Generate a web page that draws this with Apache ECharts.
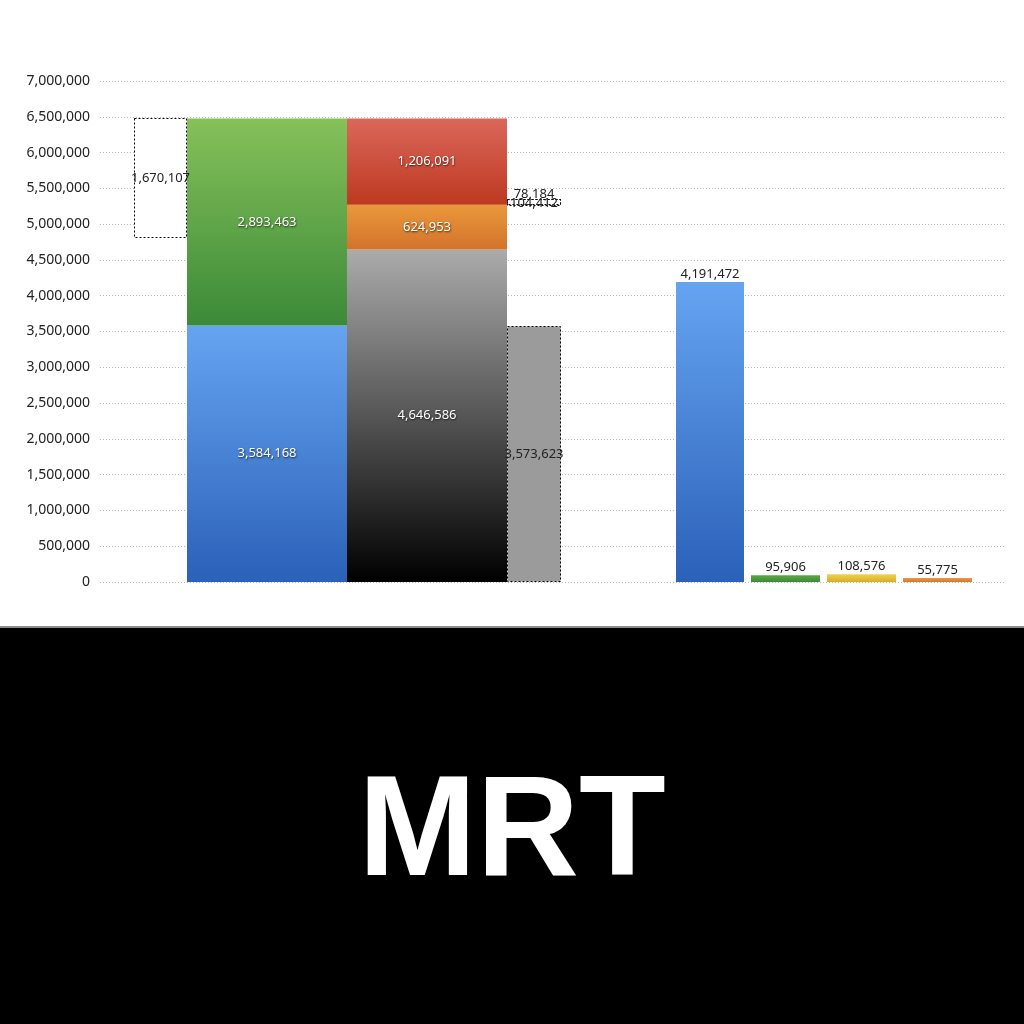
<!DOCTYPE html>
<html><head><meta charset="utf-8">
<script src="https://cdn.jsdelivr.net/npm/echarts@6/dist/echarts.min.js"></script>
<style>html,body{margin:0;padding:0;background:#fff}#c{width:1024px;height:1024px}</style>
</head><body><div id="c"></div>
<script>
// ---- data ----
const yAxisMin = 0, yAxisMax = 7000000, yAxisInterval = 500000;
const stackA = [3584168, 2893463];            // blue, green
const stackB = [4646586, 624953, 1206091];    // gray/black, orange, red
const gapLeft = [1670107];
const gapRight = [3573623];
const gapSmall = [78184, 104412];
const rightBars = [4191472, 95906, 108576, 55775];
const titleText = 'MRT';

// ---- layout (x units on hidden value axis) ----
const X = {
  gapLeft: [34, 87], stackA: [87, 247], stackB: [247, 407], gapRight: [407, 461],
  right: [[576, 644], [651, 720], [727, 796], [803, 872]]
};
const FONT = '"Noto Sans", "DejaVu Sans", sans-serif';
function grad(top, bottom) {
  return new echarts.graphic.LinearGradient(0, 0, 0, 1, [{offset: 0, color: top}, {offset: 1, color: bottom}]);
}
const colA = [['#66a4f1', '#2b61b9'], ['#86c15a', '#3b8a38']];
const colB = [['#ababab', '#000000'], ['#ea983c', '#d3732b'], ['#da675b', '#bd3920']];
const colRight = [['#66a4f1', '#2b61b9'], ['#5fa845', '#3c8a38'], ['#eed44c', '#d6ae28'], ['#eb9a44', '#d4772c']];

const items = [];
function fmt(v) { return v.toLocaleString('en-US'); }
let base = 0;
stackA.forEach((v, i) => {
  items.push({x0: X.stackA[0], x1: X.stackA[1], y0: base, y1: base + v, fill: colA[i], label: fmt(v), lc: '#fff', shadow: true, pos: 'in'});
  base += v;
});
const topA = base;
items.push({x0: X.gapLeft[0], x1: X.gapLeft[1], y0: topA - gapLeft[0], y1: topA, fill: '#fff', dash: true, label: fmt(gapLeft[0]), lc: '#222', pos: 'in'});
base = 0;
stackB.forEach((v, i) => {
  items.push({x0: X.stackB[0], x1: X.stackB[1], y0: base, y1: base + v, fill: colB[i], label: fmt(v), lc: '#fff', shadow: true, pos: 'in'});
  base += v;
});
const topOrange = stackB[0] + stackB[1];
items.push({x0: X.gapRight[0], x1: X.gapRight[1], y0: 0, y1: gapRight[0], fill: '#9b9b9b', dash: true, label: fmt(gapRight[0]), lc: '#222', pos: 'in'});
const s1top = topOrange + gapSmall[0];
items.push({x0: X.gapRight[0], x1: X.gapRight[1], y0: topOrange, y1: s1top, fill: '#fff', dash: true, label: fmt(gapSmall[0]), lc: '#222', pos: 'above'});
items.push({x0: X.gapRight[0], x1: X.gapRight[1], y0: s1top - gapSmall[1], y1: s1top, fill: 'rgba(255,255,255,0)', dash: true, label: fmt(gapSmall[1]), lc: '#222', pos: 'in'});
rightBars.forEach((v, i) => {
  items.push({x0: X.right[i][0], x1: X.right[i][1], y0: 0, y1: v, fill: colRight[i], label: fmt(v), lc: '#222', pos: 'top'});
});

const data = items.map((it, i) => [it.x0, it.x1, it.y0, it.y1, i]);

function renderItem(params, api) {
  const it = items[api.value(4)];
  const p0 = api.coord([api.value(0), api.value(2)]);
  const p1 = api.coord([api.value(1), api.value(3)]);
  const x = Math.round(p0[0]), w = Math.round(p1[0]) - x;
  const yTop = p1[1], h = p0[1] - p1[1];
  const fill = Array.isArray(it.fill) ? grad(it.fill[0], it.fill[1]) : it.fill;
  const children = [{
    type: 'rect',
    shape: it.dash ? {x: x + 0.5, y: Math.round(yTop) + 0.5, width: w - 1, height: Math.max(1, Math.round(h) - 1)} : {x: x, y: yTop, width: w, height: h},
    style: it.dash ? {fill: fill, stroke: '#000', lineWidth: 1, lineDash: [2, 2]} : {fill: fill}
  }];
  let ty, va = 'middle';
  if (it.pos === 'in') ty = yTop + h / 2;
  else if (it.pos === 'above') { ty = yTop + 2; va = 'bottom'; }
  else { ty = yTop - 1; va = 'bottom'; }
  const ts = {text: it.label, x: x + w / 2, y: ty, align: 'center', verticalAlign: va, fill: it.lc,
    font: '13px ' + FONT};
  if (it.shadow) { ts.textShadowColor = 'rgba(0,0,0,0.75)'; ts.textShadowBlur = 2; ts.textShadowOffsetX = 0.5; ts.textShadowOffsetY = 1; }
  children.push({type: 'text', style: ts, z2: 10});
  return {type: 'group', children: children};
}

const chart = echarts.init(document.getElementById('c'), null, {renderer: 'canvas'});
chart.setOption({
  animation: false,
  backgroundColor: '#fff',
  grid: {left: 100, right: 19, top: 81, bottom: 442, containLabel: false},
  xAxis: {type: 'value', min: 0, max: 905, show: false},
  yAxis: {
    type: 'value', min: yAxisMin, max: yAxisMax, interval: yAxisInterval,
    axisLine: {show: false}, axisTick: {show: false},
    axisLabel: {color: '#222', fontSize: 14, fontFamily: FONT, margin: 10, formatter: v => fmt(v)},
    splitLine: {lineStyle: {type: [1, 2], color: '#b5b5b5', width: 1}}
  },
  series: [{type: 'custom', renderItem: renderItem, data: data, clip: false,
    encode: {x: [0, 1], y: [2, 3]}}],
  graphic: [
    {type: 'rect', left: 0, top: 626, shape: {width: 1024, height: 2}, style: {fill: '#8c8c8c'}, z: 100},
    {type: 'rect', left: 0, top: 628, shape: {width: 1024, height: 396}, style: {fill: '#000'}, z: 100},
    {type: 'text', x: 512, y: 836, z: 101, style: {text: titleText, fill: '#fff', align: 'center', verticalAlign: 'middle',
      font: 'bold 142px "Liberation Sans", Arial, sans-serif'}}
  ]
});
</script></body></html>
